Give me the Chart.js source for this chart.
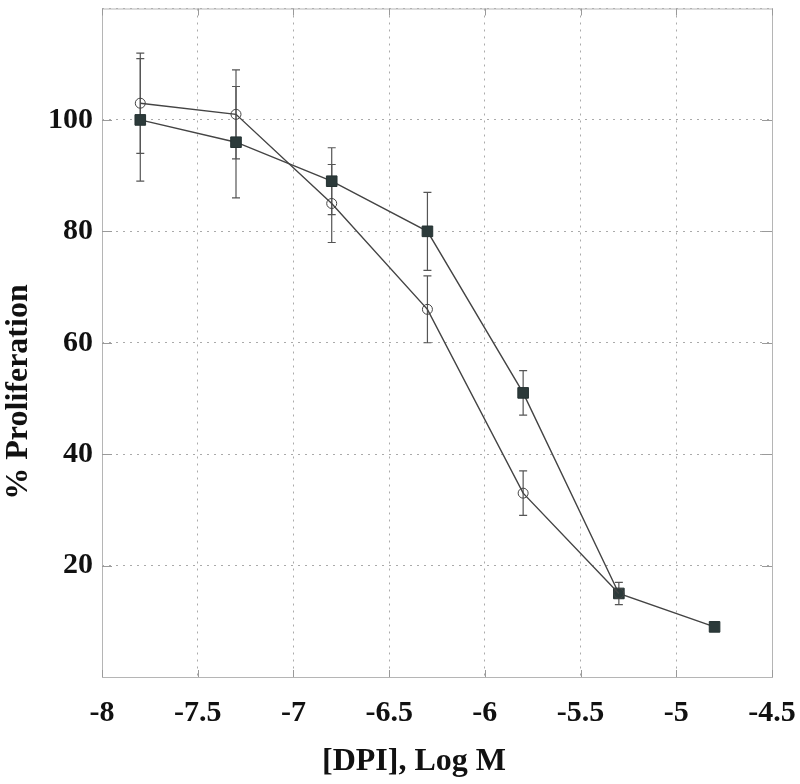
<!DOCTYPE html>
<html>
<head>
<meta charset="utf-8">
<script src="https://cdn.jsdelivr.net/npm/chart.js@4/dist/chart.umd.min.js"></script>
<style>
  html, body { margin: 0; padding: 0; background: #fff; }
  #wrap { position: relative; width: 800px; height: 784px; }
</style>
</head>
<body>
<div id="wrap"><canvas id="chart"></canvas></div>
<script>
// log concentration of DPI
const logDose = [-7.8, -7.3, -6.8, -6.3, -5.8, -5.3, -4.8];
// open circles
const circleVals = [103, 101, 85, 66, 33, 15];
const circleErr = [9, 8, 7, 6, 4, 0];
// filled squares
const squareVals = [100, 96, 89, 80, 51, 15, 9];
const squareErr = [11, 10, 6, 7, 4, 2, 0];
const yTickLabels = [20, 40, 60, 80, 100];

const serif = "'Liberation Serif', 'Times New Roman', serif";

function toPoints(vals) {
  return vals.map(function (v, i) { return { x: logDose[i], y: v }; });
}

const frameAndErrors = {
  id: "frameAndErrors",
  beforeDatasetsDraw: function (chart) {
    const ctx = chart.ctx;
    const xs = chart.scales.x, ys = chart.scales.y;
    const area = chart.chartArea;
    ctx.save();
    // plot frame
    ctx.strokeStyle = "#b5b5b5";
    ctx.lineWidth = 1;
    ctx.strokeRect(area.left + 0.5, area.top + 0.5, area.right - area.left, area.bottom - area.top);
    // small inward ticks
    ctx.strokeStyle = "#9a9a9a";
    xs.ticks.forEach(function (t) {
      const px = Math.round(xs.getPixelForValue(t.value)) + 0.5;
      ctx.beginPath();
      ctx.moveTo(px, area.bottom); ctx.lineTo(px, area.bottom - 7);
      ctx.moveTo(px, area.top); ctx.lineTo(px, area.top + 7);
      ctx.stroke();
    });
    yTickLabels.forEach(function (v) {
      const py = Math.round(ys.getPixelForValue(v)) + 0.5;
      ctx.beginPath();
      ctx.moveTo(area.left, py); ctx.lineTo(area.left + 10, py);
      ctx.moveTo(area.right, py); ctx.lineTo(area.right - 10, py);
      ctx.stroke();
    });
    // error bars
    ctx.strokeStyle = "#555";
    ctx.lineWidth = 1.2;
    function bars(vals, errs) {
      vals.forEach(function (v, i) {
        if (!errs[i]) return;
        const px = xs.getPixelForValue(logDose[i]);
        const top = ys.getPixelForValue(v + errs[i]);
        const bot = ys.getPixelForValue(v - errs[i]);
        ctx.beginPath();
        ctx.moveTo(px, top); ctx.lineTo(px, bot);
        ctx.moveTo(px - 4, top); ctx.lineTo(px + 4, top);
        ctx.moveTo(px - 4, bot); ctx.lineTo(px + 4, bot);
        ctx.stroke();
      });
    }
    bars(circleVals, circleErr);
    bars(squareVals, squareErr);
    ctx.restore();
  },
  afterDraw: function (chart) {
    const ctx = chart.ctx;
    ctx.save();
    ctx.fillStyle = "#111";
    ctx.font = "bold 32px " + serif;
    ctx.textAlign = "center";
    ctx.textBaseline = "alphabetic";
    ctx.fillText("[DPI], Log M", 414, 770);
    ctx.translate(19, 392);
    ctx.rotate(-Math.PI / 2);
    ctx.textBaseline = "middle";
    ctx.fillText("% Proliferation", 0, 0);
    ctx.restore();
  }
};

new Chart(document.getElementById("chart"), {
  type: "scatter",
  data: {
    datasets: [
      {
        label: "circles",
        data: toPoints(circleVals),
        showLine: true,
        borderColor: "#444",
        borderWidth: 1.4,
        pointStyle: "circle",
        pointRadius: 5,
        pointBorderWidth: 1,
        pointBorderColor: "#444",
        pointBackgroundColor: "rgba(0,0,0,0)",
      },
      {
        label: "squares",
        data: toPoints(squareVals),
        showLine: true,
        borderColor: "#444",
        borderWidth: 1.4,
        pointStyle: "rect",
        pointRadius: 7.5,
        pointBorderWidth: 1,
        pointBorderColor: "#253232",
        pointBackgroundColor: "#2c3a3a",
      },
    ],
  },
  options: {
    responsive: true,
    maintainAspectRatio: false,
    animation: false,
    layout: { padding: { top: 5, right: 28, left: 0, bottom: 0 } },
    plugins: { legend: { display: false }, tooltip: { enabled: false } },
    scales: {
      x: {
        type: "linear",
        min: -8,
        max: -4.5,
        afterFit: function (s) {
          s.height = 107;
          s.paddingLeft = 0;
          s.paddingRight = 0;
        },
        grid: { color: "#aaa", lineWidth: 1, drawTicks: false },
        border: { display: false, dash: [2, 5] },
        ticks: {
          stepSize: 0.5,
          padding: 18,
          color: "#111",
          font: { family: serif, size: 30, weight: "bold" },
          callback: function (v) { return String(v); },
        },
      },
      y: {
        min: 0,
        max: 120,
        afterFit: function (s) {
          s.width = 102;
          s.paddingTop = 0;
          s.paddingBottom = 0;
        },
        grid: { color: "#aaa", lineWidth: 1, drawTicks: false },
        border: { display: false, dash: [2, 5] },
        ticks: {
          stepSize: 20,
          padding: 9,
          color: "#111",
          font: { family: serif, size: 30, weight: "bold" },
          callback: function (v) { return yTickLabels.indexOf(v) >= 0 ? String(v) : ""; },
        },
      },
    },
  },
  plugins: [frameAndErrors],
});
</script>
</body>
</html>
